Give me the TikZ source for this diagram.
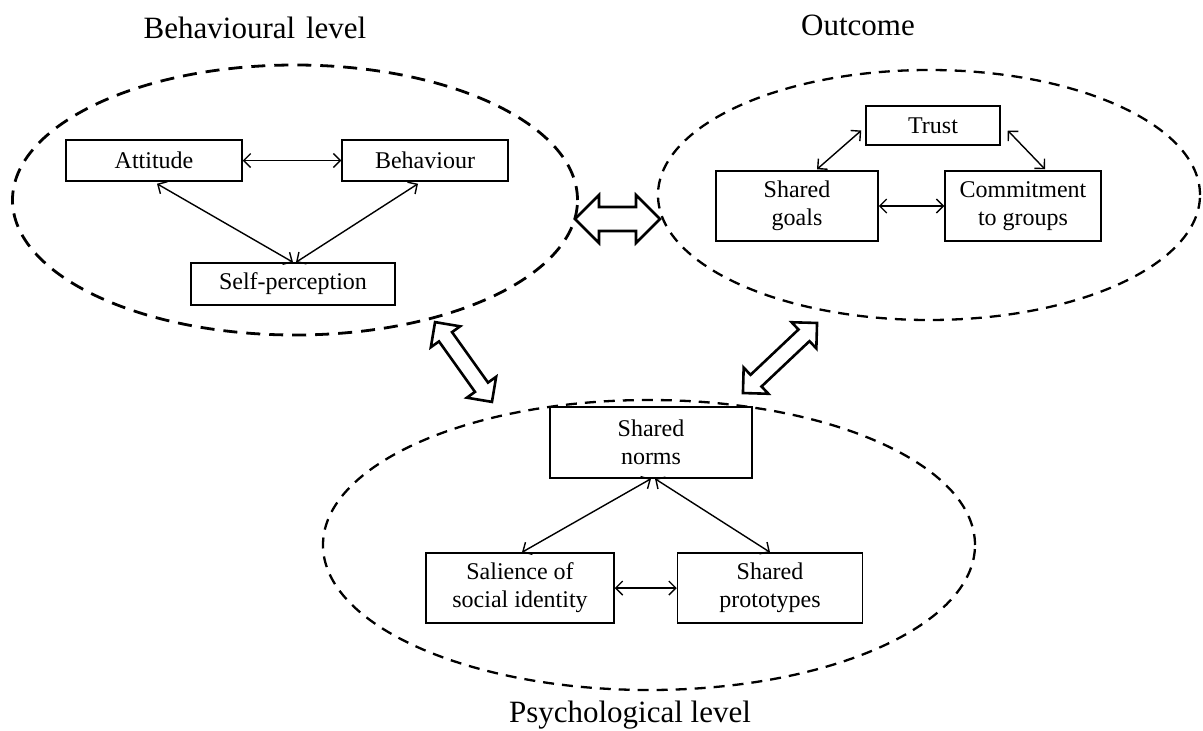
\documentclass[tikz,border=0pt]{standalone}
\usepackage{fontspec}
\setmainfont{Liberation Serif}
\usetikzlibrary{arrows.meta,shapes.geometric,calc}

\tikzset{
  box/.style={draw, line width=1.5pt, inner sep=0pt, align=center,
    font=\fontsize{24}{28}\selectfont},
  title/.style={font=\fontsize{31}{36}\selectfont, inner sep=0pt},
  group/.style={draw, ellipse, line width=2.3pt, inner sep=0pt,
    dash pattern=on 11pt off 8pt},
  heavygroup/.style={group, line width=2.8pt, dash pattern=on 14pt off 9pt},
  link/.style={line width=1.4pt, {Straight Barb[length=7pt,width=14pt]}-{Straight Barb[length=7pt,width=14pt]}},
  fat/.style={draw, line width=2.6pt, line join=miter, fill=white}
}

% hollow two-headed arrow along the local x axis
% #1 half length, #2 head length, #3 shaft half width, #4 head half width
\newcommand{\fatarrow}[4]{%
  \path[fat] (-#1,0) -- (-#1+#2,#4) -- (-#1+#2,#3) -- (#1-#2,#3) -- (#1-#2,#4)
    -- (#1,0) -- (#1-#2,-#4) -- (#1-#2,-#3) -- (-#1+#2,-#3) -- (-#1+#2,-#4) -- cycle;}

\begin{document}
\begin{tikzpicture}[x=1pt,y=-1pt]
\useasboundingbox (0,0) rectangle (1203,731);

% the three groups
\node[heavygroup, minimum width=565pt, minimum height=270pt] (behgrp) at (295,200) {};
\node[group, minimum width=542pt, minimum height=250pt] (outgrp) at (929,195) {};
\node[group, minimum width=652pt, minimum height=290pt] (psygrp) at (649,545) {};

% titles
\node[title] (tbeh) at (255,28) {Behavioural\hspace{0.35em}level};
\node[title] (tout) at (858,25) {Outcome};
\node[title] (tpsy) at (630,715) {Psychological level};

% behavioural level
\node[box, minimum width=176pt, minimum height=41pt] (att) at (154,160.5) {Attitude};
\node[box, minimum width=166pt, minimum height=41pt] (beh) at (425,160.5) {Behaviour};
\node[box, minimum width=204pt, minimum height=42pt] (self) at (293,284) {Self-perception};

% outcome
\node[box, minimum width=134pt, minimum height=39pt] (trust) at (933,125.5) {Trust};
\node[box, minimum width=162pt, minimum height=70pt] (goals) at (797,206) {Shared\\goals};
\node[box, minimum width=156pt, minimum height=70pt] (commit) at (1023,206) {Commitment\\to groups};

% psychological level
\node[box, minimum width=202pt, minimum height=71pt] (norms) at (651,442.5) {Shared\\norms};
\node[box, minimum width=188pt, minimum height=70pt] (sal) at (520,588) {Salience of\\social identity};
\node[box, minimum width=185pt, minimum height=70pt] (proto) at (770,588) {Shared\\prototypes};

% links inside the groups
\draw[link] (att.east) -- (beh.west);
\draw[link] ($(att.south)+(3,2)$) -- (self.north);
\draw[link] ($(beh.south)+(-7,2)$) -- ($(self.north)+(3,0)$);

\draw[link] ($(trust.west)+(-4,5)$) -- ($(goals.north)+(20,-1)$);
\draw[link] ($(trust.east)+(7,5)$) -- ($(commit.north)+(22,-1)$);
\draw[link] (goals.east) -- (commit.west);

\draw[link] (norms.south) -- ($(sal.north)+(2,0)$);
\draw[link] ($(norms.south)+(4,0)$) -- (proto.north);
\draw[link] (sal.east) -- (proto.west);

% hollow arrows between the groups
\begin{scope}[shift={(617.5,219)}]
  \fatarrow{42.5}{24}{12}{24}
\end{scope}
\begin{scope}[shift={(463.5,362)}, rotate=-54.5]
  \fatarrow{49}{18}{8}{18}
\end{scope}
\begin{scope}[shift={(780,358)}, rotate=43.4]
  \fatarrow{51}{18}{8}{18}
\end{scope}
\end{tikzpicture}
\end{document}
